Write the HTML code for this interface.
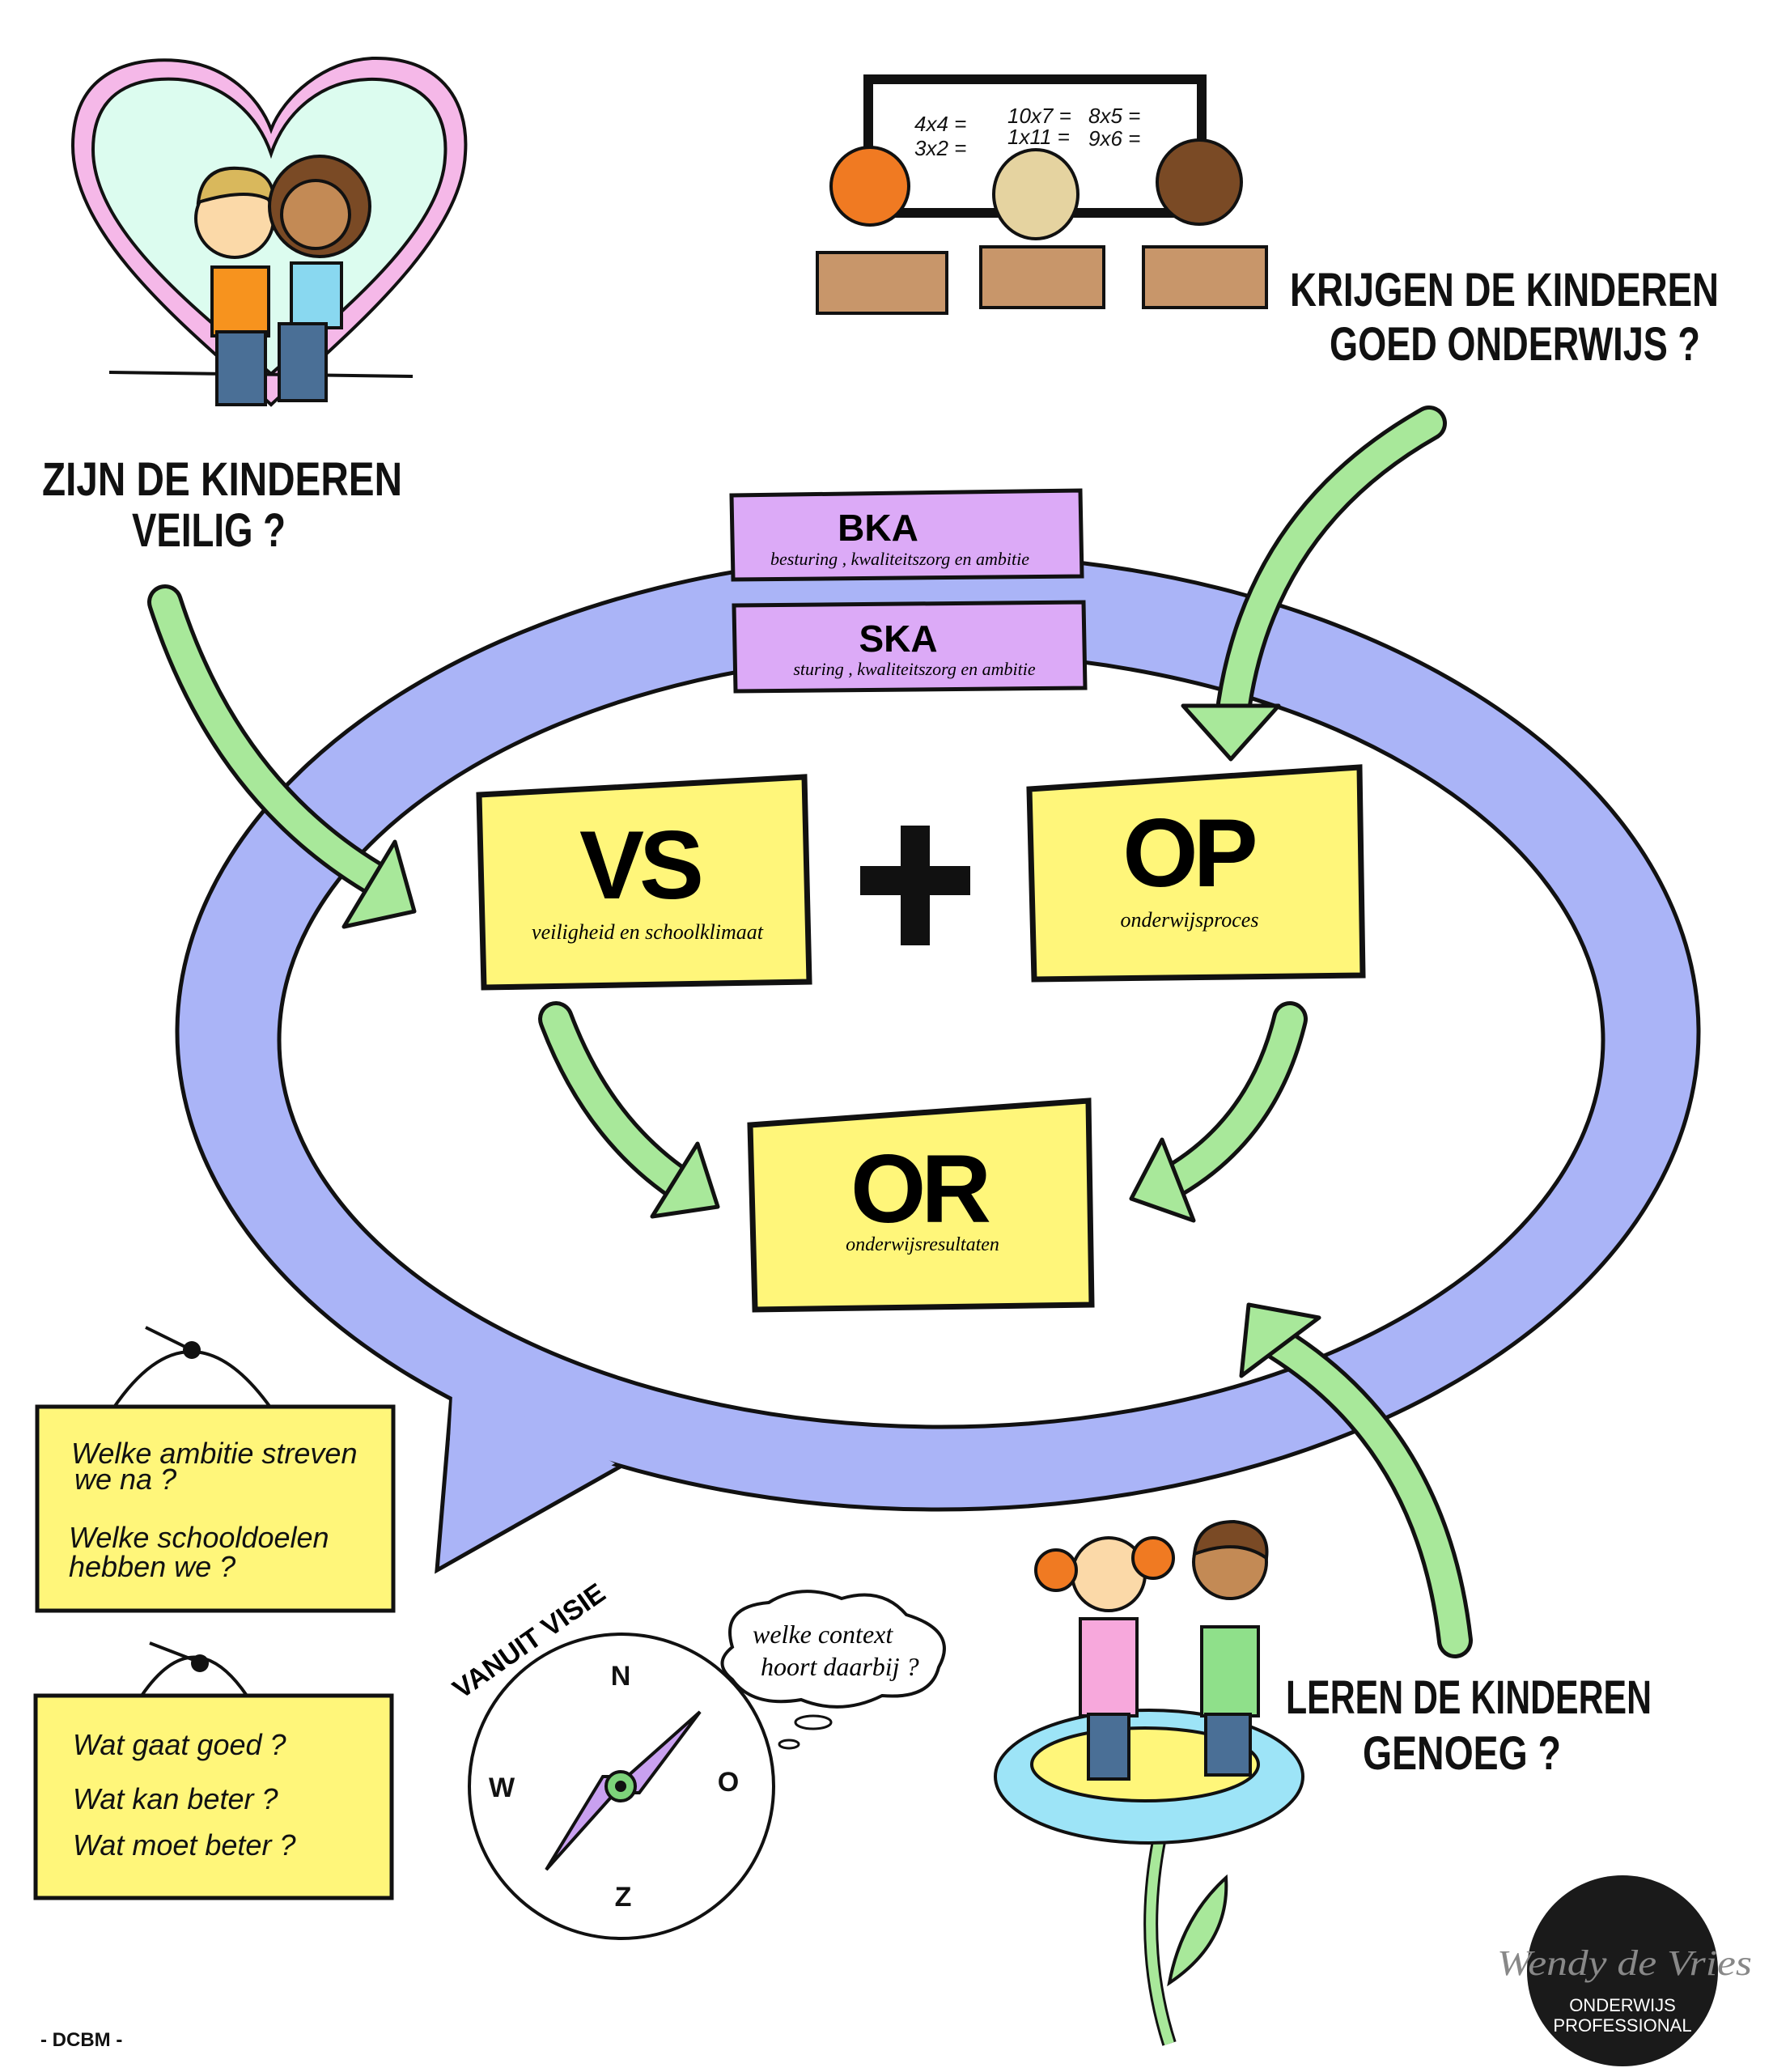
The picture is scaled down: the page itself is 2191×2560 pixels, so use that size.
<!DOCTYPE html>
<html><head><meta charset="utf-8"><style>
html,body{margin:0;padding:0;background:#fff}
svg{display:block}
text{font-family:"Liberation Sans",sans-serif}
.hand{font-family:"Liberation Serif",serif;font-style:italic}
</style></head><body>
<svg width="2191" height="2560" viewBox="0 0 2191 2560" xmlns="http://www.w3.org/2000/svg">
<rect width="2191" height="2560" fill="#fff"/>

<path d="M560,1700 L540,1940 L770,1810 Z" fill="#aab4f7" stroke="#111" stroke-width="5"/>
<ellipse cx="1159" cy="1275" rx="940" ry="590" fill="#aab4f7" stroke="#111" stroke-width="5"/>
<path d="M560,1705 L548,1925 L760,1808 Z" fill="#aab4f7"/>
<ellipse cx="1163" cy="1285" rx="818" ry="478" fill="#fff" stroke="#111" stroke-width="5"/>

<g stroke="#111" stroke-width="5">
<polygon points="904,612 1335,606 1337,712 906,716" fill="#dcaaf7"/>
<polygon points="907,748 1339,744 1341,850 909,854" fill="#dcaaf7"/>
</g>
<text x="1085" y="668" font-size="46" font-weight="bold" text-anchor="middle">BKA</text>
<text x="1112" y="698" font-size="22" class="hand" text-anchor="middle">besturing , kwaliteitszorg en ambitie</text>
<text x="1110" y="805" font-size="46" font-weight="bold" text-anchor="middle">SKA</text>
<text x="1130" y="834" font-size="22" class="hand" text-anchor="middle">sturing , kwaliteitszorg en ambitie</text>

<g stroke="#111">
<polygon points="592,982 994,960 1000,1213 598,1220" fill="#fff67a" stroke-width="7"/>
<polygon points="1272,975 1680,948 1684,1205 1278,1210" fill="#fff67a" stroke-width="7"/>
<polygon points="927,1390 1345,1360 1349,1612 933,1618" fill="#fff67a" stroke-width="7"/>
</g>
<text x="790" y="1110" font-size="120" font-weight="bold" text-anchor="middle" letter-spacing="-6">VS</text>
<text x="800" y="1160" font-size="26" class="hand" text-anchor="middle">veiligheid en schoolklimaat</text>
<text x="1468" y="1095" font-size="120" font-weight="bold" text-anchor="middle" letter-spacing="-6">OP</text>
<text x="1470" y="1145" font-size="26" class="hand" text-anchor="middle">onderwijsproces</text>
<text x="1135" y="1510" font-size="120" font-weight="bold" text-anchor="middle" letter-spacing="-6">OR</text>
<text x="1140" y="1545" font-size="24" class="hand" text-anchor="middle">onderwijsresultaten</text>
<rect x="1063" y="1070" width="136" height="36" fill="#111"/>
<rect x="1113" y="1020" width="36" height="148" fill="#111"/>

<g fill="none" stroke-linecap="round">
<g stroke="#111" stroke-width="44">
<path d="M204,744 Q280,980 470,1090"/>
<path d="M1766,523 Q1560,640 1525,870"/>
<path d="M687,1259 Q740,1400 850,1470"/>
<path d="M1594,1259 Q1560,1400 1440,1465"/>
<path d="M1798,2027 Q1770,1780 1580,1660"/>
</g>
<g stroke="#a8e89a" stroke-width="34">
<path d="M204,744 Q280,980 470,1090"/>
<path d="M1766,523 Q1560,640 1525,870"/>
<path d="M687,1259 Q740,1400 850,1470"/>
<path d="M1594,1259 Q1560,1400 1440,1465"/>
<path d="M1798,2027 Q1770,1780 1580,1660"/>
</g>
</g>
<g fill="#a8e89a" stroke="#111" stroke-width="5" stroke-linejoin="round">
<polygon points="512,1126 425,1145 488,1040"/>
<polygon points="1521,938 1462,872 1580,872"/>
<polygon points="887,1491 806,1503 862,1413"/>
<polygon points="1398,1481 1475,1508 1436,1408"/>
<polygon points="1543,1612 1630,1628 1534,1700"/>
</g>

<g font-weight="bold" fill="#111" font-size="58">
<text x="52" y="612" textLength="445" lengthAdjust="spacingAndGlyphs">ZIJN DE KINDEREN</text>
<text x="163" y="675" textLength="190" lengthAdjust="spacingAndGlyphs">VEILIG ?</text>
<text x="1594" y="378" textLength="530" lengthAdjust="spacingAndGlyphs">KRIJGEN DE KINDEREN</text>
<text x="1643" y="445" textLength="458" lengthAdjust="spacingAndGlyphs">GOED ONDERWIJS ?</text>
<text x="1589" y="2117" textLength="452" lengthAdjust="spacingAndGlyphs">LEREN DE KINDEREN</text>
<text x="1684" y="2186" textLength="245" lengthAdjust="spacingAndGlyphs">GENOEG ?</text>
</g>

<path d="M335,500 C250,420 90,300 90,180 C90,90 160,70 220,75 C280,80 320,120 335,160 C350,120 400,75 460,72 C540,70 580,120 575,190 C570,300 420,420 335,500 Z" fill="#f5b8e8" stroke="#111" stroke-width="4"/>
<path d="M335,462 C260,395 115,290 115,185 C115,110 170,95 220,98 C275,102 318,140 335,190 C352,140 395,100 455,98 C520,96 555,135 550,195 C545,290 410,395 335,462 Z" fill="#dcfcef" stroke="#111" stroke-width="4"/>
<line x1="135" y1="460" x2="510" y2="465" stroke="#111" stroke-width="4"/>
<g stroke="#111" stroke-width="4">
<circle cx="290" cy="270" r="48" fill="#fbd9a8"/>
<path d="M245,250 Q250,205 295,208 Q340,210 338,250 Q310,230 245,250Z" fill="#d9b85c"/>
<rect x="262" y="330" width="70" height="85" fill="#f7931e"/>
<rect x="268" y="410" width="60" height="90" fill="#4a6f96"/>
<circle cx="395" cy="255" r="62" fill="#7a4a25"/>
<circle cx="390" cy="265" r="42" fill="#c38a55"/>
<rect x="360" y="325" width="62" height="80" fill="#89d8f0"/>
<rect x="345" y="400" width="58" height="95" fill="#4a6f96"/>
</g>

<rect x="1073" y="98" width="412" height="165" fill="#fff" stroke="#111" stroke-width="12"/>
<g font-size="26" class="hand" fill="#111">
<text x="1130" y="162">4x4 =</text><text x="1130" y="192">3x2 =</text>
<text x="1245" y="152">10x7 =</text><text x="1245" y="178">1x11 =</text>
<text x="1345" y="152">8x5 =</text><text x="1345" y="180">9x6 =</text>
</g>
<g stroke="#111" stroke-width="4">
<circle cx="1075" cy="230" r="48" fill="#f07a22"/>
<ellipse cx="1280" cy="240" rx="52" ry="55" fill="#e5d3a0"/>
<circle cx="1482" cy="225" r="52" fill="#7a4a25"/>
<rect x="1010" y="312" width="160" height="75" fill="#c8966a"/>
<rect x="1212" y="305" width="152" height="75" fill="#c8966a"/>
<rect x="1413" y="305" width="152" height="75" fill="#c8966a"/>
</g>

<g stroke="#111" stroke-width="4" fill="none">
<path d="M140,1740 Q235,1600 335,1740"/>
<path d="M175,2095 Q240,2000 305,2095"/>
<line x1="180" y1="1640" x2="245" y2="1672"/>
<line x1="185" y1="2030" x2="250" y2="2055"/>
</g>
<circle cx="237" cy="1668" r="11" fill="#111"/><circle cx="247" cy="2055" r="11" fill="#111"/>
<rect x="46" y="1738" width="440" height="252" fill="#fff67a" stroke="#111" stroke-width="5"/>
<rect x="44" y="2095" width="440" height="250" fill="#fff67a" stroke="#111" stroke-width="5"/>
<g class="hand" font-size="36" fill="#111">
<text x="88" y="1808">Welke ambitie streven</text>
<text x="92" y="1840">we na ?</text>
<text x="85" y="1912">Welke schooldoelen</text>
<text x="85" y="1948">hebben we ?</text>
<text x="90" y="2168">Wat gaat goed ?</text>
<text x="90" y="2235">Wat kan beter ?</text>
<text x="90" y="2292">Wat moet beter ?</text>
</g>

<circle cx="768" cy="2207" r="188" fill="#fff" stroke="#111" stroke-width="4"/>
<polygon points="865,2115 790,2215 760,2215 675,2310 745,2195 775,2195" fill="#c9a0f0" stroke="#111" stroke-width="4"/>
<circle cx="767" cy="2207" r="18" fill="#7dd37a" stroke="#111" stroke-width="4"/>
<circle cx="767" cy="2207" r="7" fill="#111"/>
<g font-size="34" font-weight="bold" fill="#111" text-anchor="middle">
<text x="767" y="2082">N</text><text x="620" y="2220">W</text><text x="900" y="2213">O</text><text x="770" y="2355">Z</text>
</g>
<text x="570" y="2100" font-size="34" font-weight="bold" transform="rotate(-35 570 2100)">VANUIT VISIE</text>
<path d="M905,2035 Q890,1985 950,1980 Q990,1955 1040,1975 Q1090,1960 1120,1995 Q1185,2015 1160,2060 Q1150,2100 1090,2095 Q1040,2120 990,2100 Q930,2110 905,2075 Q880,2055 905,2035Z" fill="#fff" stroke="#111" stroke-width="4"/>
<ellipse cx="1005" cy="2128" rx="22" ry="8" fill="none" stroke="#111" stroke-width="3"/>
<ellipse cx="975" cy="2155" rx="12" ry="5" fill="none" stroke="#111" stroke-width="3"/>
<text x="930" y="2030" class="hand" font-size="32">welke context</text>
<text x="940" y="2070" class="hand" font-size="32">hoort daarbij ?</text>

<path d="M1435,2260 Q1405,2400 1445,2525" fill="none" stroke="#111" stroke-width="18"/>
<path d="M1435,2260 Q1405,2400 1445,2525" fill="none" stroke="#a8e89a" stroke-width="12"/>
<path d="M1445,2450 Q1460,2370 1515,2320 Q1520,2400 1445,2450Z" fill="#a8e89a" stroke="#111" stroke-width="4"/>
<ellipse cx="1420" cy="2195" rx="190" ry="82" fill="#9de4f7" stroke="#111" stroke-width="4"/>
<ellipse cx="1415" cy="2180" rx="140" ry="45" fill="#fff67a" stroke="#111" stroke-width="4"/>
<g stroke="#111" stroke-width="4">
<circle cx="1370" cy="1945" r="45" fill="#fbd9a8"/>
<circle cx="1305" cy="1940" r="25" fill="#f07a22"/><circle cx="1425" cy="1925" r="25" fill="#f07a22"/>
<rect x="1335" y="2000" width="70" height="120" fill="#f7a8dc"/>
<rect x="1345" y="2118" width="50" height="80" fill="#4a6f96"/>
<circle cx="1520" cy="1930" r="45" fill="#c38a55"/>
<path d="M1476,1920 Q1480,1880 1525,1880 Q1570,1885 1565,1925 Q1530,1900 1476,1920Z" fill="#7a4a25"/>
<rect x="1485" y="2010" width="70" height="110" fill="#8fe08a"/>
<rect x="1490" y="2118" width="55" height="75" fill="#4a6f96"/>
</g>

<circle cx="2005" cy="2435" r="118" fill="#1a1a1a"/>
<text x="1850" y="2440" font-size="44" class="hand" fill="#888" textLength="315" lengthAdjust="spacingAndGlyphs">Wendy de Vries</text>
<text x="2005" y="2485" font-size="22" fill="#fff" text-anchor="middle">ONDERWIJS</text>
<text x="2005" y="2510" font-size="22" fill="#fff" text-anchor="middle">PROFESSIONAL</text>
<text x="50" y="2528" font-size="24" font-weight="bold" fill="#111">- DCBM -</text>
</svg>
</body></html>
